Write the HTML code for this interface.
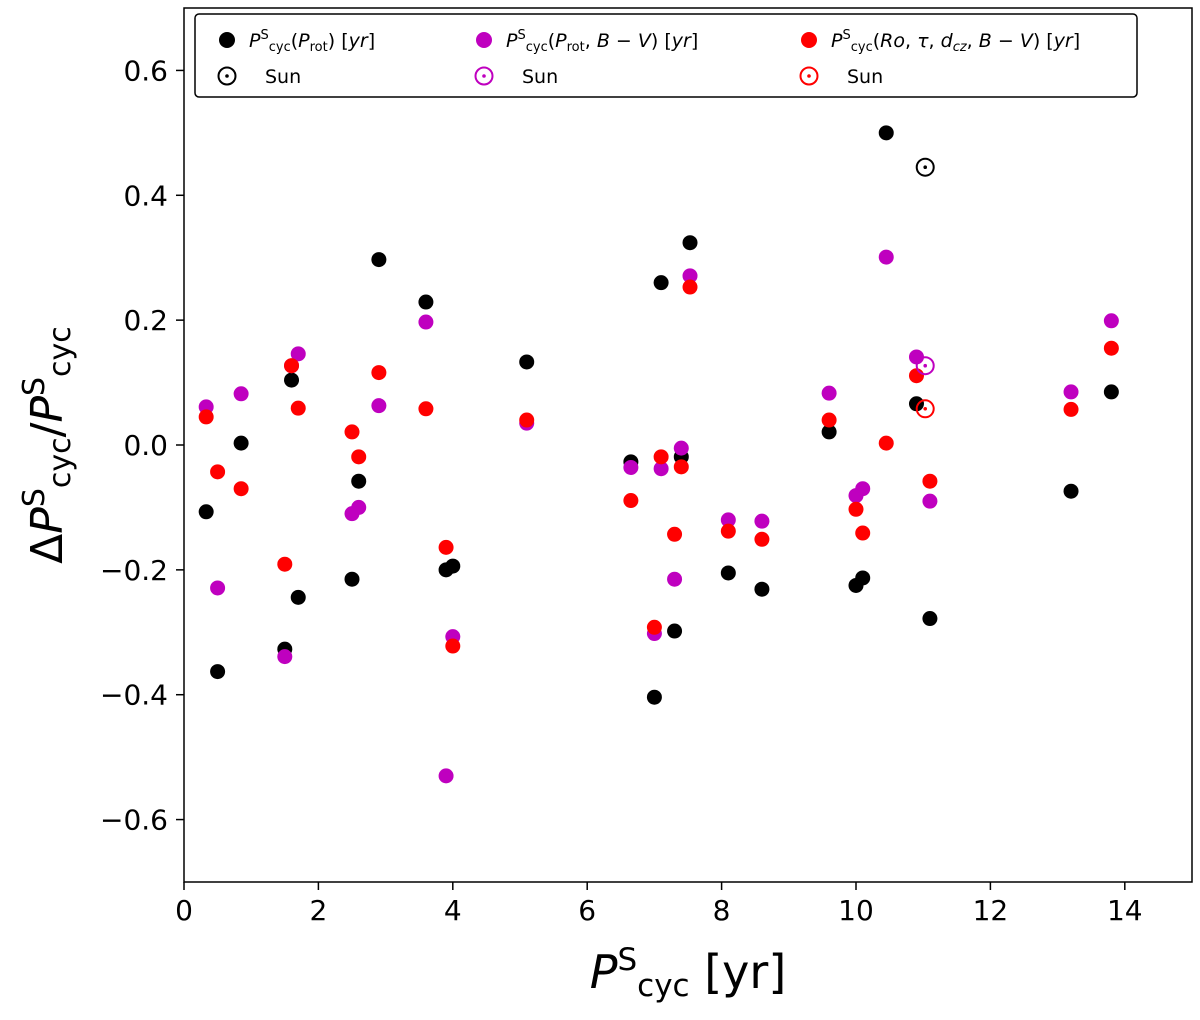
<!DOCTYPE html>
<html><head><meta charset="utf-8"><style>
body{margin:0;background:#fff;font-family:"Liberation Sans","DejaVu Sans",sans-serif}
svg text{font-family:"DejaVu Sans","Liberation Sans",sans-serif}
</style></head><body>
<svg id="c" width="1200" height="1015" xmlns="http://www.w3.org/2000/svg"></svg>
<script>
const xs=[0.33,0.5,0.85,1.5,1.6,1.7,2.5,2.6,2.9,3.6,3.9,4.0,5.1,6.65,7.0,7.1,7.3,7.4,7.53,8.1,8.6,9.6,10.0,10.1,10.45,10.9,11.1,13.2,13.8];
const blackVals=[-0.107,-0.363,0.003,-0.327,0.104,-0.244,-0.215,-0.058,0.297,0.229,-0.2,-0.194,0.133,-0.027,-0.404,0.26,-0.298,-0.019,0.324,-0.205,-0.231,0.021,-0.225,-0.213,0.5,0.066,-0.278,-0.074,0.085];
const magentaVals=[0.061,-0.229,0.082,-0.339,0.127,0.146,-0.11,-0.1,0.063,0.197,-0.53,-0.307,0.035,-0.036,-0.302,-0.038,-0.215,-0.005,0.271,-0.12,-0.122,0.083,-0.081,-0.07,0.301,0.141,-0.09,0.085,0.199];
const redVals=[0.045,-0.043,-0.07,-0.191,0.127,0.059,0.021,-0.019,0.116,0.058,-0.164,-0.322,0.04,-0.089,-0.292,-0.019,-0.143,-0.035,0.253,-0.138,-0.151,0.04,-0.103,-0.141,0.003,0.111,-0.058,0.057,0.155];
const sunX=11.03;
const sunVals=[0.445,0.127,0.058];
const xTicks=[0,2,4,6,8,10,12,14];
const yTicks=[0.6,0.4,0.2,0.0,-0.2,-0.4,-0.6];

const L=184,R=1192,T=8,B=882;
const X=v=>L+(v-0)/15*(R-L);
const Y=v=>T+(0.7-v)/1.4*(B-T);
const NS="http://www.w3.org/2000/svg";
const svg=document.getElementById('c');
function el(t,a,p){const e=document.createElementNS(NS,t);for(const k in a)e.setAttribute(k,a[k]);(p||svg).appendChild(e);return e;}

xTicks.forEach(t=>{
 const l=el('line',{x1:X(t),x2:X(t),y1:B,y2:B+8,stroke:'#000','stroke-width':1.5});
 
 const tx=el('text',{x:X(t),y:B+38,'text-anchor':'middle','font-size':28});tx.textContent=t;
 
});
yTicks.forEach(t=>{
 const l=el('line',{x1:L-8,x2:L,y1:Y(t),y2:Y(t),stroke:'#000','stroke-width':1.5});
 
 const tx=el('text',{x:L-16,y:Y(t)+10,'text-anchor':'end','font-size':28});tx.textContent=(t<0?'\u2212':'')+Math.abs(t).toFixed(1);
 
});

function series(vals,col,name){
 const g=el('g',{});
 vals.forEach((v,i)=>{const c=el('circle',{cx:X(xs[i]),cy:Y(v),r:7.5,fill:col},g);
  });
}
series(blackVals,'#000','black-series');
series(magentaVals,'#bf00bf','magenta-series');
series(redVals,'#ff0000','red-series');
const sunCols=['#000','#bf00bf','#ff0000'];
sunVals.forEach((v,i)=>{
 const g=el('g',{});
 el('circle',{cx:X(sunX),cy:Y(v),r:8.5,fill:'none',stroke:sunCols[i],'stroke-width':2},g);
 el('circle',{cx:X(sunX),cy:Y(v),r:1.8,fill:sunCols[i]},g);
});

const frame=el('rect',{x:L,y:T,width:R-L,height:B-T,fill:'none',stroke:'#000','stroke-width':1.5});


const lg=el('g',{});
el('rect',{x:195,y:14,width:942,height:83,rx:4,fill:'#fff',stroke:'#000','stroke-width':1.5},lg);
const legItems=[[227,'#000','<tspan font-style="italic">P</tspan><tspan dy="-8" font-size="13">S</tspan><tspan dy="12" font-size="13">cyc</tspan><tspan dy="-4">(</tspan><tspan font-style="italic">P</tspan><tspan dy="4" font-size="13">rot</tspan><tspan dy="-4">) [</tspan><tspan font-style="italic">yr</tspan>]'],
[484,'#bf00bf','<tspan font-style="italic">P</tspan><tspan dy="-8" font-size="13">S</tspan><tspan dy="12" font-size="13">cyc</tspan><tspan dy="-4">(</tspan><tspan font-style="italic">P</tspan><tspan dy="4" font-size="13">rot</tspan><tspan dy="-4">, </tspan><tspan font-style="italic">B</tspan> − <tspan font-style="italic">V</tspan>) [<tspan font-style="italic">yr</tspan>]'],
[809,'#ff0000','<tspan font-style="italic">P</tspan><tspan dy="-8" font-size="13">S</tspan><tspan dy="12" font-size="13">cyc</tspan><tspan dy="-4">(</tspan><tspan font-style="italic">Ro</tspan>, <tspan font-style="italic">τ</tspan>, <tspan font-style="italic">d</tspan><tspan dy="4" font-size="13" font-style="italic">cz</tspan><tspan dy="-4">, </tspan><tspan font-style="italic">B</tspan> − <tspan font-style="italic">V</tspan>) [<tspan font-style="italic">yr</tspan>]']];
legItems.forEach(([x,c,h])=>{
 const e=el('g',{},lg);
 el('circle',{cx:x,cy:40,r:8,fill:c},e);
 const t=el('text',{x:x+22,y:47,'font-size':19},e);t.innerHTML=h;
 el('circle',{cx:x,cy:76,r:8.5,fill:'none',stroke:c,'stroke-width':2},e);
 el('circle',{cx:x,cy:76,r:1.8,fill:c},e);
 const s=el('text',{x:x+38,y:83,'font-size':19},e);s.textContent='Sun';
});

const xt=el('text',{x:688,y:988,'text-anchor':'middle','font-size':46});
xt.innerHTML='<tspan font-style="italic">P</tspan><tspan dy="-18" font-size="31">S</tspan><tspan dy="26" font-size="31">cyc</tspan><tspan dy="-8"> [yr]</tspan>';

const yt=el('text',{x:0,y:0,'text-anchor':'middle','font-size':44,transform:'translate(62,445) rotate(-90)'});
yt.innerHTML='Δ<tspan font-style="italic">P</tspan><tspan dy="-18" font-size="30">S</tspan><tspan dy="26" font-size="30">cyc</tspan><tspan dy="-8">/</tspan><tspan font-style="italic">P</tspan><tspan dy="-18" font-size="30">S</tspan><tspan dy="26" font-size="30">cyc</tspan>';

</script>
</body></html>
